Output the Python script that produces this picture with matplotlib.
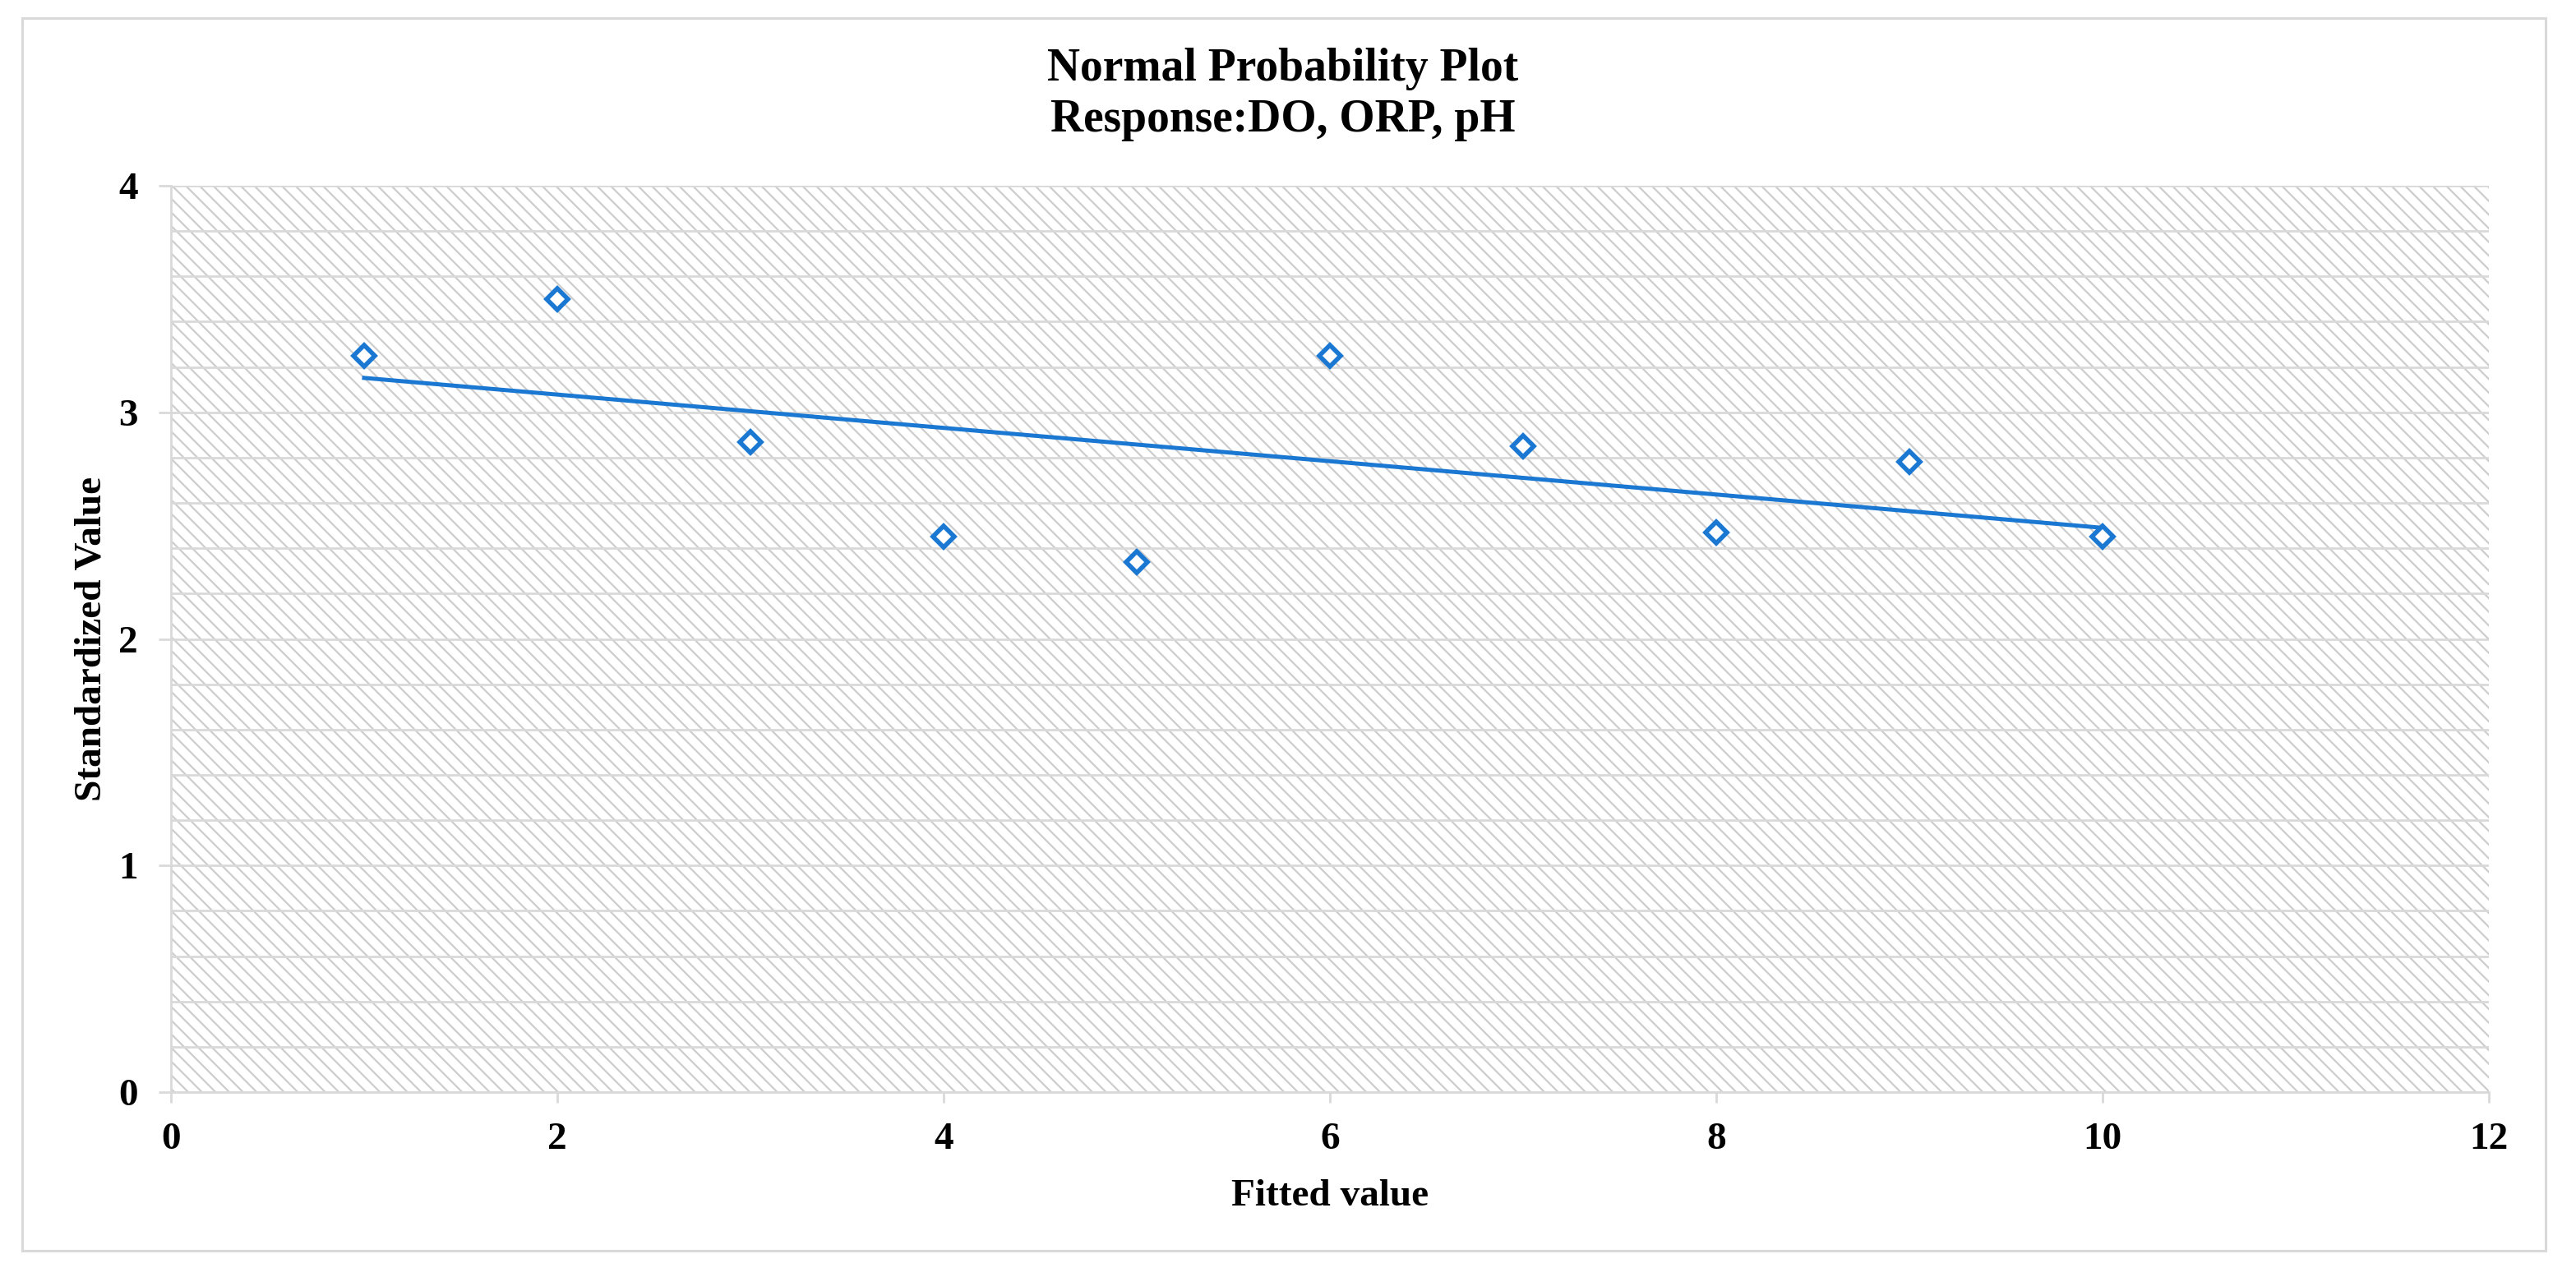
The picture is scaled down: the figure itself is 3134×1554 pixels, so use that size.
import matplotlib
matplotlib.use("Agg")
import matplotlib.pyplot as plt
import numpy as np
from matplotlib.patches import Rectangle
from matplotlib.ticker import MultipleLocator

# ---- data ----
fitted = [1, 2, 3, 4, 5, 6, 7, 8, 9, 10]
standardized = [3.25, 3.50, 2.87, 2.45, 2.34, 3.25, 2.85, 2.47, 2.78, 2.45]
title_lines = ["Normal Probability Plot", "Response:DO, ORP, pH"]
x_label = "Fitted value"
y_label = "Standardized Value"
x_ticks = [0, 2, 4, 6, 8, 10, 12]
y_ticks = [0, 1, 2, 3, 4]

plt.rcParams['font.family'] = ['Liberation Serif', 'DejaVu Serif']
plt.rcParams['font.weight'] = 'bold'
plt.rcParams['hatch.linewidth'] = 0.8

W, H, DPI = 3134, 1554, 200
fig = plt.figure(figsize=(W / DPI, H / DPI), dpi=DPI)
fig.patch.set_facecolor('white')

# outer chart border
fig.patches.append(Rectangle((27 / W, 1 - 1522 / H), (3097 - 27) / W, (1522 - 22) / H,
                             transform=fig.transFigure, fill=False,
                             edgecolor='#d9d9d9', linewidth=1.1, zorder=0))

left, right, top, bottom = 208, 3028, 226, 1329
ax = fig.add_axes([left / W, 1 - bottom / H, (right - left) / W, (bottom - top) / H])

# hatched plot area background
ax.add_patch(Rectangle((0, 0), 1, 1, transform=ax.transAxes, facecolor='white',
                       edgecolor='#cdcdcd', hatch='\\\\\\\\', linewidth=0, zorder=0))

ax.set_xlim(0, 12)
ax.set_ylim(0, 4)
ax.set_xticks(x_ticks)
ax.set_yticks(y_ticks)
ax.yaxis.set_minor_locator(MultipleLocator(0.2))
ax.grid(True, which='both', axis='y', color='#d9d9d9', linewidth=1.0, zorder=1)
ax.set_axisbelow(True)

for s in ['top', 'right']:
    ax.spines[s].set_visible(False)
for s in ['left', 'bottom']:
    ax.spines[s].set_color('#d9d9d9')
    ax.spines[s].set_linewidth(1.0)

ax.tick_params(axis='x', which='major', direction='out', length=4.7, width=1.0,
               color='#d9d9d9', labelsize=17, pad=8.5)
ax.tick_params(axis='y', which='major', direction='out', length=5.5, width=1.0,
               color='#d9d9d9', labelsize=17, pad=9)
ax.tick_params(axis='y', which='minor', length=0)
for lab in ax.get_xticklabels() + ax.get_yticklabels():
    lab.set_fontweight('bold')

blue = '#1a78d2'
# trendline (linear fit)
coef = np.polyfit(fitted, standardized, 1)
xs = np.array([min(fitted), max(fitted)])
ax.plot(xs, np.polyval(coef, xs), color=blue, linewidth=1.8, zorder=3)

ax.plot(fitted, standardized, linestyle='none', marker='D', markersize=6.8,
        markerfacecolor='white', markeredgecolor=blue, markeredgewidth=2.0, zorder=4)

ax.set_xlabel(x_label, fontsize=17, fontweight='bold', labelpad=10)
ax.set_ylabel(y_label, fontsize=17, fontweight='bold', labelpad=4)

fig.text(1561 / W, 1 - 98 / H, title_lines[0], ha='center', va='baseline',
         fontsize=20, fontweight='bold')
fig.text(1561 / W, 1 - 160 / H, title_lines[1], ha='center', va='baseline',
         fontsize=20, fontweight='bold')

fig.savefig('out.png', dpi=DPI)
